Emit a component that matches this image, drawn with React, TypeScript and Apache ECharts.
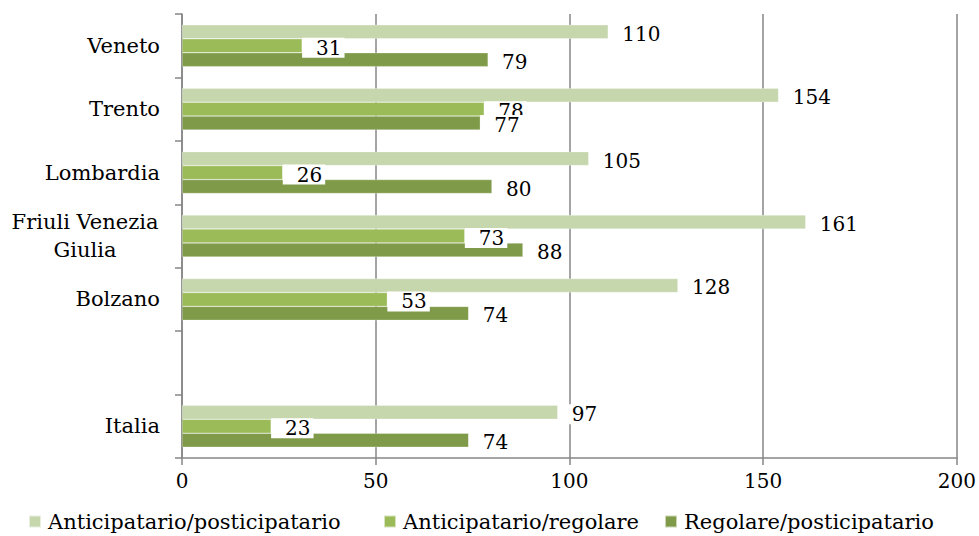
import React, { useEffect, useRef } from "react";
import * as echarts from "echarts";

const categories = ["Veneto", "Trento", "Lombardia", "Friuli Venezia Giulia", "Bolzano", "", "Italia"];
const seriesNames = ["Anticipatario/posticipatario", "Anticipatario/regolare", "Regolare/posticipatario"];
const antPost = [110, 154, 105, 161, 128, null, 97];
const antReg = [31, 78, 26, 73, 53, null, 23];
const regPost = [79, 77, 80, 88, 74, null, 74];
const colors = ["#c6d7ae", "#9bbb59", "#7f9a48"];

const FONT = "DejaVu Serif";

export default function App() {
  const ref = useRef<HTMLDivElement>(null);
  useEffect(() => {
    const chart = echarts.init(ref.current!, null, { renderer: "svg" });
    const mk = (name: string, data: (number | null)[], color: string) => ({
      name,
      type: "bar",
      data,
      barGap: "0%",
      barCategoryGap: "34%",
      itemStyle: { color, borderColor: "rgba(255,255,255,0.6)", borderWidth: 0.5 },
      label: {
        show: true,
        position: "right",
        distance: 0,
        color: "#000",
        fontFamily: FONT,
        fontSize: 20,
        backgroundColor: "#fff",
        padding: [0, 3, 0, 14],
        offset: [0, 2],
      },
    });
    const legendStyle = {
      bottom: 4,
      padding: 0,
      itemWidth: 12,
      itemHeight: 12,
      itemGap: 8,
      icon: "rect",
      textStyle: { fontFamily: FONT, fontSize: 21, color: "#000", padding: [0, 0, 0, 2] },
    };
    chart.setOption({
      animation: false,
      textStyle: { fontFamily: FONT },
      grid: { left: 182, right: 21, top: 14, bottom: 78, containLabel: false },
      legend: [
        { ...legendStyle, left: 28, data: [seriesNames[0]] },
        { ...legendStyle, left: 383, data: [seriesNames[1]] },
        { ...legendStyle, left: 664, data: [seriesNames[2]] },
      ],
      xAxis: {
        type: "value",
        min: 0,
        max: 200,
        interval: 50,
        axisLine: { show: true, lineStyle: { color: "#868686", width: 1.5 } },
        axisTick: { show: true, length: 7, lineStyle: { color: "#868686", width: 1.5 } },
        axisLabel: { color: "#000", fontFamily: FONT, fontSize: 20, margin: 13 },
        splitLine: { show: true, lineStyle: { color: "#868686", width: 1.5 } },
      },
      yAxis: {
        type: "category",
        inverse: true,
        data: categories,
        axisLine: { show: true, lineStyle: { color: "#868686", width: 1.5 } },
        axisTick: { show: true, length: 7, lineStyle: { color: "#868686", width: 1.5 } },
        axisLabel: {
          color: "#000",
          fontFamily: FONT,
          fontSize: 21,
          margin: 22,
          lineHeight: 28,
          formatter: (v: string) =>
            v.indexOf("Friuli") === 0 ? "{c|Friuli Venezia}\n{c|Giulia}" : v,
          rich: {
            c: { width: 150, align: "center", fontFamily: FONT, fontSize: 21, color: "#000", lineHeight: 28 },
          },
        },
      },
      series: [
        mk(seriesNames[0], antPost, colors[0]),
        mk(seriesNames[1], antReg, colors[1]),
        mk(seriesNames[2], regPost, colors[2]),
      ],
    });
    return () => chart.dispose();
  }, []);
  return <div ref={ref} style={{ width: 979, height: 536, position: "absolute", left: 0, top: 0 }} />;
}
